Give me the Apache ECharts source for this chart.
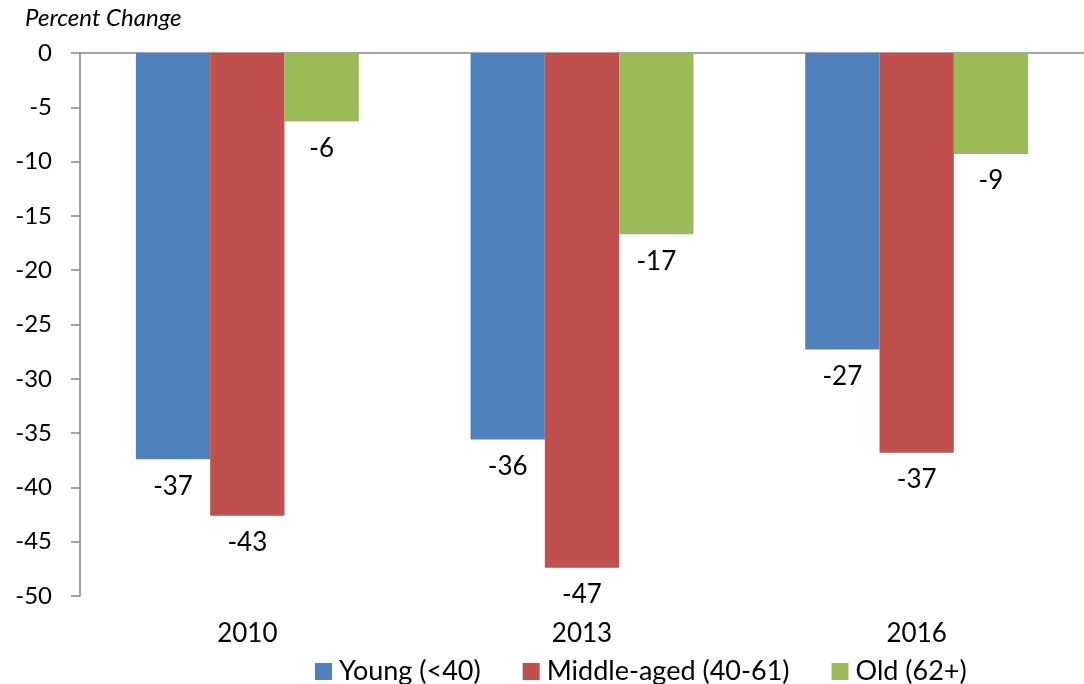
<!DOCTYPE html>
<html>
<head>
<meta charset="utf-8">
<script src="https://cdn.jsdelivr.net/npm/echarts@6/dist/echarts.min.js"></script>
<style>
  html, body { margin: 0; padding: 0; background: #fff; }
  #chart { width: 1084px; height: 684px; }
</style>
</head>
<body>
<div id="chart"></div>
<script>
const years = ['2010', '2013', '2016'];
const young = [-37.4, -35.6, -27.3];
const middle = [-42.6, -47.4, -36.8];
const old = [-6.3, -16.7, -9.3];

const font = 'Lato, "Open Sans", sans-serif';

const barLabel = {
  show: true,
  position: 'bottom',
  distance: 14,
  fontFamily: font,
  fontSize: 26,
  color: '#000',
  formatter: p => Math.round(p.value)
};

const makeSeries = (name, data, color) => ({
  name: name,
  type: 'bar',
  xAxisIndex: 0,
  data: data,
  barGap: '0%',
  barCategoryGap: '33.4%',
  itemStyle: { color: color },
  label: barLabel,
  emphasis: { disabled: true }
});

const getOption = () => {
  return {
    animation: false,
    graphic: [{
      type: 'text',
      left: 25,
      top: 6,
      style: {
        text: 'Percent Change',
        fontFamily: font,
        fontStyle: 'italic',
        fontSize: 24,
        fill: '#000'
      }
    }],
    legend: {
      top: 653,
      left: 310,
      itemWidth: 17,
      itemHeight: 17,
      itemGap: 42,
      icon: 'rect',
      textStyle: { fontFamily: font, fontSize: 27, color: '#000', padding: [0, 0, 0, 2] },
      data: ['Young (<40)', 'Middle-aged (40-61)', 'Old (62+)']
    },
    grid: { left: 80, right: 0, top: 53, bottom: 88 },
    xAxis: [
      {
        type: 'category',
        data: years,
        position: 'bottom',
        axisLine: { show: false },
        axisTick: { show: false },
        axisLabel: { margin: 25, fontFamily: font, fontSize: 26, color: '#000' }
      },
      {
        type: 'category',
        data: years,
        position: 'top',
        axisLine: { show: true, lineStyle: { color: '#868686', width: 1.5 } },
        axisTick: { show: false },
        axisLabel: { show: false }
      }
    ],
    yAxis: {
      type: 'value',
      min: -50,
      max: 0,
      interval: 5,
      axisLine: { show: true, lineStyle: { color: '#868686', width: 1.5 } },
      axisTick: { show: true, length: 9, lineStyle: { color: '#868686', width: 1.5 } },
      splitLine: { show: false },
      axisLabel: { margin: 28, fontFamily: font, fontSize: 24, color: '#000' }
    },
    series: [
      makeSeries('Young (<40)', young, '#4F81BD'),
      makeSeries('Middle-aged (40-61)', middle, '#C0504D'),
      makeSeries('Old (62+)', old, '#9BBB59')
    ]
  };
};

const initCharts = () => {
  const chart = echarts.init(document.getElementById('chart'));
  chart.setOption(getOption());
};

window.addEventListener('load', () => {
  initCharts();
});
</script>
</body>
</html>
